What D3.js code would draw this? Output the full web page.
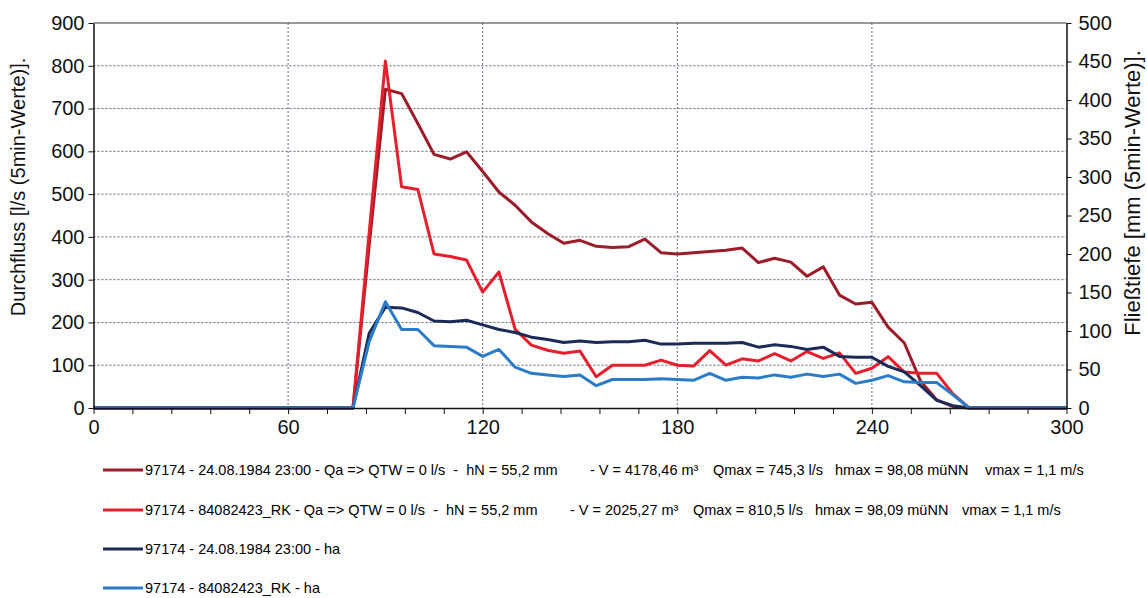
<!DOCTYPE html>
<html>
<head>
<meta charset="utf-8">
<script src="https://cdn.jsdelivr.net/npm/d3@7/dist/d3.min.js"></script>
<style>
  html, body { margin: 0; padding: 0; background: #fff; }
  svg { display: block; font-family: "Liberation Sans", Arial, sans-serif; }
</style>
</head>
<body>
<svg id="chart" width="1147" height="598"></svg>
<script>
// Time axis: minutes, 5-minute steps from 0 to 300
const minutes = d3.range(0, 301, 5);

// Durchfluss Qa [l/s], event 24.08.1984 23:00 (values from 80 to 270 min, zero elsewhere)
const qEvent = [0, 380, 745, 735, 665, 593, 582, 599, 553, 505, 474, 435, 408, 385, 392, 378, 375, 377, 395, 363,
  360, 363, 366, 369, 374, 340, 350, 341, 308, 330, 264, 243, 247, 189, 152, 63, 19, 3, 0];
// Durchfluss Qa [l/s], 84082423_RK
const qRK = [0, 410, 811, 517, 511, 360, 354, 346, 271, 318, 184, 147, 135, 128, 133, 73, 100, 100, 100, 112,
  100, 98, 134, 100, 115, 110, 127, 110, 132, 116, 129, 81, 93, 120, 84, 81, 81, 33, 0];
// Fließtiefe ha [mm], event 24.08.1984 23:00
const hEvent = [0, 97, 131, 130, 124, 113, 112, 114, 108, 102, 98, 92, 89, 85, 87, 85, 86, 86, 88, 83,
  83, 84, 84, 84, 85, 79, 82, 80, 76, 79, 67, 66, 66, 54, 47, 29, 10, 3, 0];
// Fließtiefe ha [mm], 84082423_RK
const hRK = [0, 86, 138, 102, 102, 81, 80, 79, 67, 76, 53, 45, 43, 41, 43, 29, 37, 37, 37, 38,
  37, 36, 45, 36, 40, 39, 43, 40, 44, 41, 44, 32, 36, 42, 34, 33, 33, 17, 0];
const activeStart = 80; // first minute of the runoff arrays above

const xTicksMajor = [0, 60, 120, 180, 240, 300];
const xTicksMinor = d3.range(0, 301, 12);
const leftTicks = d3.range(0, 901, 100);
const rightTicks = d3.range(0, 501, 50);

// legend text pieces: [x, text]
const legendRows = [
  [[145, "97174 - 24.08.1984 23:00 - Qa => QTW = 0 l/s  -  hN = 55,2 mm"], [590, "- V = 4178,46 m³"],
   [713, "Qmax = 745,3 l/s"], [835, "hmax = 98,08 müNN"], [985, "vmax = 1,1 m/s"]],
  [[145, "97174 - 84082423_RK - Qa => QTW = 0 l/s  -  hN = 55,2 mm"], [570, "- V = 2025,27 m³"],
   [693, "Qmax = 810,5 l/s"], [815, "hmax = 98,09 müNN"], [962, "vmax = 1,1 m/s"]],
  [[145, "97174 - 24.08.1984 23:00 - ha"]],
  [[145, "97174 - 84082423_RK - ha"]]
];

// expand a runoff array to the full 0..300 time grid
function fullSeries(vals) {
  return minutes.map(t => {
    const i = (t - activeStart) / 5;
    return { t, v: (i >= 0 && i < vals.length) ? vals[i] : 0 };
  });
}

const series = [
  { data: fullSeries(qEvent), axis: "left", color: "#9c1c2a" },
  { data: fullSeries(qRK), axis: "left", color: "#e5202c" },
  { data: fullSeries(hEvent), axis: "right", color: "#1b2a58" },
  { data: fullSeries(hRK), axis: "right", color: "#2a7cc6" }
];

const L = 93.5, R = 1066.5, T = 23, B = 408;
const svg = d3.select("#chart");

const x = d3.scaleLinear().domain([0, 300]).range([L, R]);
const yL = d3.scaleLinear().domain([0, 900]).range([B, T]);
const yR = d3.scaleLinear().domain([0, 500]).range([B, T]);

// grid
const grid = svg.append("g");
grid.selectAll("line.h").data(leftTicks.filter(d => d > 0 && d < 900)).join("line")
  .attr("x1", L).attr("x2", R)
  .attr("y1", d => yL(d)).attr("y2", d => yL(d))
  .attr("stroke", "#5d6373").attr("stroke-width", 1).attr("stroke-dasharray", "2,2");
grid.selectAll("line.v").data(xTicksMajor.filter(d => d > 0 && d < 300)).join("line")
  .attr("y1", T).attr("y2", B)
  .attr("x1", d => x(d)).attr("x2", d => x(d))
  .attr("stroke", "#5f6f9a").attr("stroke-width", 1).attr("stroke-dasharray", "2,2");

// top border
svg.append("line").attr("x1", L).attr("x2", R).attr("y1", T).attr("y2", T)
  .attr("stroke", "#333").attr("stroke-width", 1.2);

// series lines
const line = d3.line().x(d => x(d.t));
series.forEach(s => {
  const ys = s.axis === "left" ? yL : yR;
  svg.append("path").datum(s.data)
    .attr("fill", "none").attr("stroke", s.color).attr("stroke-width", 3)
    .attr("stroke-linejoin", "round")
    .attr("d", line.y(d => ys(d.v)));
});

// axes
const fs = "20px";
const gx = svg.append("g").attr("transform", `translate(0,${B})`)
  .call(d3.axisBottom(x).tickValues(xTicksMinor)
    .tickSize(6).tickSizeOuter(0)
    .tickFormat(d => xTicksMajor.includes(d) ? d : ""));
const gl = svg.append("g").attr("transform", `translate(${L},0)`)
  .call(d3.axisLeft(yL).tickValues(leftTicks).tickSize(5).tickSizeOuter(0));
const gr = svg.append("g").attr("transform", `translate(${R},0)`)
  .call(d3.axisRight(yR).tickValues(rightTicks).tickSize(5).tickSizeOuter(0));
[gx, gl, gr].forEach(g => {
  g.selectAll("text").attr("font-size", fs).attr("fill", "#111").attr("font-family", "Liberation Sans, Arial, sans-serif");
  g.selectAll("line").attr("stroke", "#111");
  g.select(".domain").attr("stroke", "#111").attr("stroke-width", 1.5);
});
gx.selectAll("text").attr("dy", "0.85em");
gl.selectAll("text").attr("x", -9);
gr.selectAll("text").attr("x", 12);

// axis titles
svg.append("text").attr("transform", "translate(25,187) rotate(-90)")
  .attr("text-anchor", "middle").attr("font-size", fs).attr("fill", "#111")
  .text("Durchfluss [l/s (5min-Werte)].");
svg.append("text").attr("transform", "translate(1140,193) rotate(-90)")
  .attr("text-anchor", "middle").attr("font-size", "22px").attr("fill", "#111")
  .text("Fließtiefe [mm (5min-Werte)].");

// legend
const rowY = [470, 510, 549, 588];
legendRows.forEach((row, i) => {
  svg.append("line").attr("x1", 103).attr("x2", 143)
    .attr("y1", rowY[i]).attr("y2", rowY[i])
    .attr("stroke", series[i].color).attr("stroke-width", 3);
  row.forEach(([tx, txt]) => {
    svg.append("text").attr("x", tx).attr("y", rowY[i] + 5)
      .attr("font-size", "14.5px").attr("fill", "#000")
      .style("white-space", "pre")
      .text(txt);
  });
});
</script>
</body>
</html>
